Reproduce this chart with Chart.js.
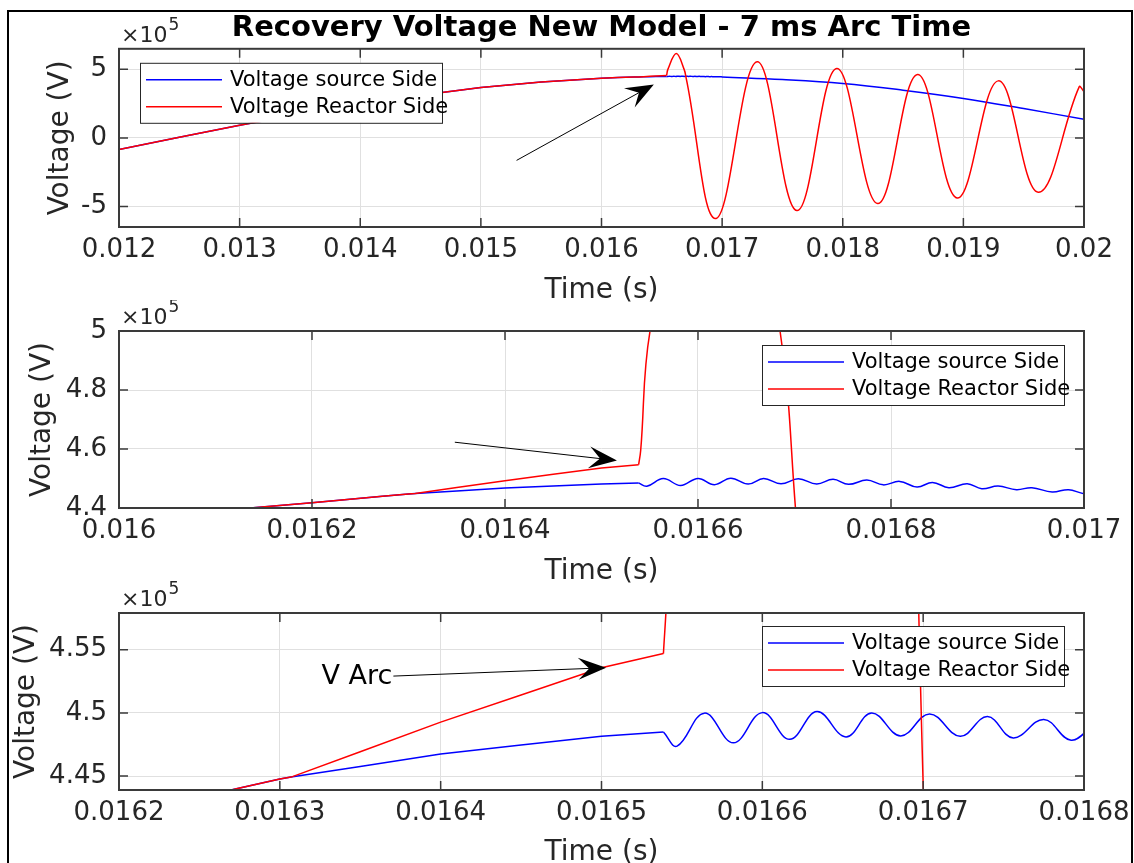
<!DOCTYPE html>
<html>
<head>
<meta charset="utf-8">
<title>Recovery Voltage New Model - 7 ms Arc Time</title>
<script src="https://cdn.jsdelivr.net/npm/chart.js@4.4.1/dist/chart.umd.min.js"></script>
<style>
  html, body { margin: 0; padding: 0; background: #fff; }
  body { width: 1134px; height: 863px; position: relative; overflow: hidden; }
  #frame { position: absolute; left: 7px; top: 10px; width: 1122px; height: 900px; border: 2px solid #000; }
  canvas { position: absolute; left: 0; }
</style>
</head>
<body>
<div id="frame"></div>
<canvas id="c1" width="1134" height="308" style="top:0"></canvas>
<canvas id="c2" width="1134" height="289" style="top:300px"></canvas>
<canvas id="c3" width="1134" height="295" style="top:575px"></canvas>
<script>
// time in s, voltage in units of 1e5 V

// both sides follow the same 60 Hz wave until the arc current is interrupted
const preT = [0.012, 0.0125, 0.013, 0.0135, 0.014, 0.0145, 0.015, 0.0155, 0.016,
  0.016136, 0.0162, 0.016273, 0.0163, 0.016307, 0.01635, 0.0164, 0.01645, 0.0165, 0.0165385];
const sourcePreV = [-0.85, 0.05, 0.92, 1.72, 2.52, 3.12, 3.68, 4.08, 4.36,
  4.40, 4.418, 4.440, 4.4477, 4.4492, 4.4576, 4.4674, 4.4745, 4.4815, 4.4849];
const reactorPreV = [-0.85, 0.05, 0.92, 1.72, 2.52, 3.12, 3.68, 4.08, 4.36,
  4.40, 4.418, 4.440, 4.4477, 4.4492, 4.4693, 4.4927, 4.5141, 4.5357, 4.5469];

// reactor side after interruption: decaying oscillation
const reactorPostT = [0.0165385, 0.0165406, 0.0165503, 0.01662, 0.016685, 0.016701, 0.01695,
  0.01729, 0.01762, 0.01795, 0.01829, 0.01862, 0.01895, 0.01929, 0.01962, 0.01996, 0.02];
const reactorPostV = [4.5469, 4.595, 5.0, 6.16, 5.0, 4.4, -5.88,
  5.55, -5.30, 5.07, -4.79, 4.63, -4.38, 4.16, -3.96, 3.72, 3.36];

// source side after interruption: small ringing on top of the 60 Hz wave
const sourcePostT = [0.0165385, 0.016547, 0.016564, 0.016582, 0.0166, 0.016617, 0.016634,
  0.016652, 0.016668, 0.016686, 0.016704, 0.016723, 0.01674, 0.016756, 0.016775, 0.016792,
  0.016809, 0.016827, 0.016843, 0.01686, 0.016879, 0.016894, 0.016911, 0.01693, 0.016946,
  0.016967, 0.016984, 0.017, 0.0175, 0.018, 0.0185, 0.019, 0.0195, 0.02];
const sourcePostV = [4.4849, 4.4737, 4.4998, 4.4763, 4.5002, 4.4791, 4.5010,
  4.4810, 4.5000, 4.4818, 4.4992, 4.4815, 4.4971, 4.4802, 4.4948, 4.4784,
  4.4902, 4.4709, 4.4868, 4.4689, 4.4824, 4.4655, 4.4743, 4.4622, 4.4689,
  4.4541, 4.4622, 4.4486, 4.26, 3.97, 3.48, 2.88, 2.14, 1.36];

const FONT = 'DejaVu Sans';
const INK = '#262626';
const GRID = '#e0e0e0';
const BLUE = '#0000ff';
const RED = '#ff0000';

Chart.defaults.font.family = FONT;
Chart.defaults.color = INK;

const toPoints = (ts, vs) => ts.map((t, i) => ({ x: t, y: vs[i] }));
const fmt = (v) => String(Number(Number(v).toPrecision(6)));

// matlab-ish decorations: box with inward ticks, x10^5 multiplier, boxed legend, arrows
function overlay(cfg) {
  return {
    id: 'overlay',
    afterDatasetsDraw(chart) {
      const { ctx, chartArea: a, scales: { x, y } } = chart;
      const len = 9;
      ctx.save();
      ctx.strokeStyle = '#3a3a3a';
      ctx.lineWidth = 1.5;
      ctx.beginPath();
      x.ticks.forEach(({ value }) => {
        const px = x.getPixelForValue(value);
        ctx.moveTo(px, a.bottom); ctx.lineTo(px, a.bottom - len);
        ctx.moveTo(px, a.top); ctx.lineTo(px, a.top + len);
      });
      y.ticks.forEach(({ value }) => {
        const py = y.getPixelForValue(value);
        ctx.moveTo(a.left, py); ctx.lineTo(a.left + len, py);
        ctx.moveTo(a.right, py); ctx.lineTo(a.right - len, py);
      });
      ctx.stroke();
      ctx.lineWidth = 2;
      ctx.strokeRect(a.left, a.top, a.right - a.left, a.bottom - a.top);
      ctx.restore();
    },
    afterDraw(chart) {
      const { ctx, chartArea: a, scales: { x, y } } = chart;
      ctx.save();

      // exponent label
      ctx.fillStyle = INK;
      ctx.textAlign = 'left';
      ctx.textBaseline = 'alphabetic';
      ctx.font = `22px "${FONT}"`;
      ctx.fillText('\u00d710', a.left + 2, a.top - 7);
      const w = ctx.measureText('\u00d710').width;
      ctx.font = `17px "${FONT}"`;
      ctx.fillText('5', a.left + 3 + w, a.top - 19);

      // legend
      const lg = cfg.legend;
      const bw = 302, bh = 60;
      const bx = lg.side === 'left' ? a.left + lg.dx : a.right - lg.dx - bw;
      const by = a.top + lg.dy;
      ctx.fillStyle = '#fff';
      ctx.fillRect(bx, by, bw, bh);
      ctx.strokeStyle = INK;
      ctx.lineWidth = 1;
      ctx.strokeRect(bx + 0.5, by + 0.5, bw, bh);
      ctx.font = `21px "${FONT}"`;
      ctx.textBaseline = 'middle';
      chart.data.datasets.filter((d) => d.inLegend).forEach((d, i) => {
        const ry = by + 17 + i * 27;
        ctx.strokeStyle = d.borderColor;
        ctx.lineWidth = 1.5;
        ctx.beginPath();
        ctx.moveTo(bx + 6, ry); ctx.lineTo(bx + 82, ry);
        ctx.stroke();
        ctx.fillStyle = '#000';
        ctx.fillText(d.label, bx + 90, ry + 1);
      });

      // arrows
      cfg.arrows.forEach((ar) => {
        const p0 = { x: x.getPixelForValue(ar.from[0]), y: y.getPixelForValue(ar.from[1]) };
        const p1 = { x: x.getPixelForValue(ar.to[0]), y: y.getPixelForValue(ar.to[1]) };
        const ang = Math.atan2(p1.y - p0.y, p1.x - p0.x);
        const ux = Math.cos(ang), uy = Math.sin(ang);
        const L = 28, W = 11, N = 17;
        ctx.strokeStyle = '#000';
        ctx.fillStyle = '#000';
        ctx.lineWidth = 1;
        ctx.beginPath();
        ctx.moveTo(p0.x, p0.y);
        ctx.lineTo(p1.x - N * ux, p1.y - N * uy);
        ctx.stroke();
        ctx.beginPath();
        ctx.moveTo(p1.x, p1.y);
        ctx.lineTo(p1.x - L * ux - W * uy, p1.y - L * uy + W * ux);
        ctx.lineTo(p1.x - N * ux, p1.y - N * uy);
        ctx.lineTo(p1.x - L * ux + W * uy, p1.y - L * uy - W * ux);
        ctx.closePath();
        ctx.fill();
        if (ar.text) {
          ctx.font = `27px "${FONT}"`;
          ctx.textAlign = 'right';
          ctx.textBaseline = 'middle';
          ctx.fillText(ar.text, p0.x - 1, p0.y + 1);
        }
      });
      ctx.restore();
    },
  };
}

function panel(id, cfg) {
  const line = { pointRadius: 0, borderWidth: 1.5, fill: false };
  return new Chart(document.getElementById(id), {
    type: 'line',
    data: {
      datasets: [
        { ...line, label: 'Voltage source Side', inLegend: true, borderColor: BLUE,
          data: toPoints(preT, sourcePreV), tension: 0, order: 1 },
        { ...line, label: 'Voltage source Side', borderColor: BLUE,
          data: toPoints(sourcePostT, sourcePostV), tension: 0.4, order: 1 },
        { ...line, label: 'Voltage Reactor Side', inLegend: true, borderColor: RED,
          data: toPoints(preT, reactorPreV), tension: 0, order: 0 },
        { ...line, label: 'Voltage Reactor Side', borderColor: RED,
          data: toPoints(reactorPostT, reactorPostV), tension: 0.4, order: 0 },
      ],
    },
    options: {
      responsive: false,
      animation: false,
      events: [],
      elements: { line: { capBezierPoints: false } },
      layout: { padding: { left: cfg.padLeft, right: 50, top: cfg.padTop, bottom: 0 } },
      scales: {
        x: {
          type: 'linear',
          min: cfg.x[0],
          max: cfg.x[1],
          // fixed axis band; end labels may hang into the outer margin
          afterFit: (s) => { s.height = cfg.xH; s.paddingLeft = 0; s.paddingRight = 0; },
          grid: { color: GRID, drawTicks: false },
          border: { display: false },
          ticks: {
            stepSize: cfg.x[2], includeBounds: false, autoSkip: false, maxRotation: 0,
            padding: 8, font: { size: 26 }, color: INK, callback: fmt,
          },
          title: { display: true, text: 'Time (s)', font: { size: 28 }, color: INK, padding: 0 },
        },
        y: {
          min: cfg.y[0],
          max: cfg.y[1],
          afterFit: (s) => { s.width = 119 - cfg.padLeft; },
          grid: { color: GRID, drawTicks: false },
          border: { display: false },
          ticks: {
            stepSize: cfg.y[2], includeBounds: false, autoSkip: false,
            padding: 12, font: { size: 26 }, color: INK, callback: fmt,
          },
          title: { display: true, text: 'Voltage (V)', font: { size: 28 }, color: INK, padding: 0 },
        },
      },
      plugins: {
        legend: { display: false },
        tooltip: { enabled: false },
        title: cfg.title ? {
          display: true,
          text: cfg.title,
          fullSize: false,
          color: '#000',
          font: { size: 29, weight: 'bold' },
          padding: { top: 11, bottom: 3 },
        } : { display: false },
      },
    },
    plugins: [overlay(cfg)],
  });
}

panel('c1', {
  title: 'Recovery Voltage New Model - 7 ms Arc Time',
  x: [0.012, 0.02, 0.001],
  y: [-6.5, 6.5, 5],
  padLeft: 44, padTop: 0, xH: 81,
  legend: { side: 'left', dx: 21, dy: 14 },
  arrows: [{ from: [0.015296, -1.64], to: [0.016434, 3.9] }],
});

panel('c2', {
  x: [0.016, 0.017, 0.0002],
  y: [4.4, 5.0, 0.2],
  padLeft: 26, padTop: 31, xH: 81,
  legend: { side: 'right', dx: 20, dy: 14 },
  arrows: [{ from: [0.016348, 4.623], to: [0.016516, 4.561] }],
});

panel('c3', {
  x: [0.0162, 0.0168, 0.0001],
  y: [4.439, 4.579, 0.05],
  padLeft: 10, padTop: 38, xH: 80,
  legend: { side: 'right', dx: 20, dy: 13 },
  arrows: [{ from: [0.0163706, 4.5291], to: [0.0165029, 4.5357], text: 'V Arc' }],
});
</script>
</body>
</html>
